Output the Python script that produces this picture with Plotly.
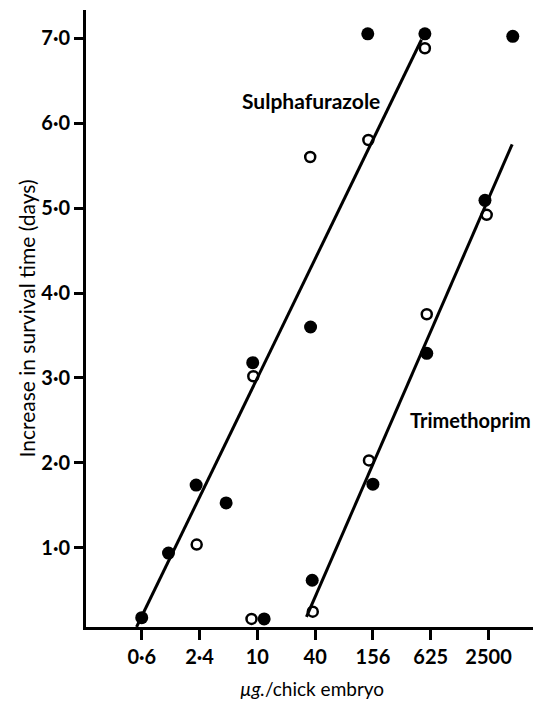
import plotly.graph_objects as go

# ---- data ----
tick_doses = [2500 / 4**6, 2500 / 4**5, 2500 / 4**4, 2500 / 4**3, 2500 / 4**2, 2500 / 4, 2500]
tick_labels = ["0·6", "2·4", "10", "40", "156", "625", "2500"]
y_tick_vals = [1, 2, 3, 4, 5, 6, 7]
y_tick_labels = ["1·0", "2·0", "3·0", "4·0", "5·0", "6·0", "7·0"]

filled_dose = [0.61, 1.16, 2.25, 4.62, 8.74, 11.5, 35.0, 138, 543, 4470, 36.4, 156, 568, 2294]
filled_days = [0.18, 0.94, 1.74, 1.53, 3.18, 0.165, 3.60, 7.05, 7.05, 7.02, 0.62, 1.75, 3.29, 5.09]

open_dose = [2.28, 8.86, 8.49, 34.7, 140, 543, 36.9, 142, 568, 2392]
open_days = [1.04, 3.02, 0.165, 5.60, 5.80, 6.88, 0.25, 2.03, 3.75, 4.92]

sulpha_line_dose = [0.539, 500]
sulpha_line_days = [0.07, 6.98]
trimeth_line_dose = [31.7, 4405]
trimeth_line_days = [0.19, 5.75]

label_names = ["Sulphafurazole", "Trimethoprim"]
label_log_x = [1.549, 2.559]
label_y = [6.27, 2.51]
label_anchor = ["center", "left"]
label_size = [21, 20]

FONT = "Lato"

fig = go.Figure()
fig.add_trace(go.Scatter(x=sulpha_line_dose, y=sulpha_line_days, mode="lines",
                         line=dict(color="black", width=3), showlegend=False,
                         cliponaxis=False))
fig.add_trace(go.Scatter(x=trimeth_line_dose, y=trimeth_line_days, mode="lines",
                         line=dict(color="black", width=3), showlegend=False,
                         cliponaxis=False))
fig.add_trace(go.Scatter(x=filled_dose, y=filled_days, mode="markers",
                         marker=dict(symbol="circle", size=13, color="black",
                                     line=dict(width=0)),
                         showlegend=False, cliponaxis=False))
fig.add_trace(go.Scatter(x=open_dose, y=open_days, mode="markers",
                         marker=dict(symbol="circle-open", size=10, color="black",
                                     line=dict(width=2.5)),
                         showlegend=False, cliponaxis=False))

for name, lx, ly, anc, sz in zip(label_names, label_log_x, label_y, label_anchor, label_size):
    fig.add_annotation(x=lx, y=ly, xref="x", yref="y", text="<b>" + name + "</b>",
                       showarrow=False, font=dict(family=FONT, size=sz, color="black"),
                       xanchor=anc, yanchor="middle")

# the page body adds an 8px offset; the figure is sized to fill the rest
fig.update_layout(
    width=533, height=700,
    margin=dict(l=78, r=3, t=2, b=81),
    paper_bgcolor="white", plot_bgcolor="white",
    font=dict(family=FONT, color="black"),
    xaxis=dict(
        type="log", range=[-0.795, 3.913],
        tickvals=tick_doses, ticktext=tick_labels,
        ticks="outside", ticklen=10, tickwidth=2.5, tickcolor="black",
        showline=True, linewidth=3, linecolor="black",
        showgrid=False, zeroline=False,
        tickfont=dict(family=FONT, size=20, color="black", weight="bold"),
        title=dict(text="<i>µg.</i>/chick embryo",
                   font=dict(family=FONT, size=19, color="black"), standoff=16),
    ),
    yaxis=dict(
        range=[0.07, 7.33],
        tickvals=y_tick_vals, ticktext=y_tick_labels,
        ticks="outside", ticklen=9, tickwidth=3, tickcolor="black",
        showline=True, linewidth=3, linecolor="black",
        showgrid=False, zeroline=False,
        tickfont=dict(family=FONT, size=20, color="black", weight="bold"),
        title=dict(text="Increase in survival time (days)",
                   font=dict(family=FONT, size=21, color="black"), standoff=0),
    ),
)

fig.write_html("out.html")
